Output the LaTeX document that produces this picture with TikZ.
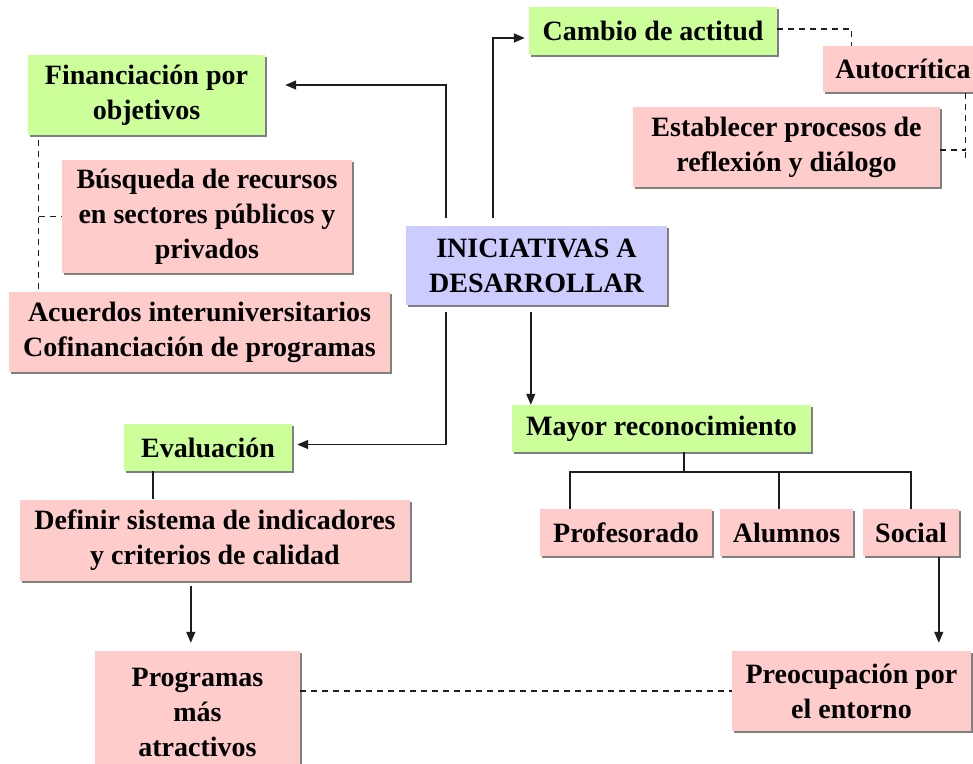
\documentclass[tikz,border=0pt]{standalone}
\usepackage{fontspec}
\setmainfont{Liberation Serif}
\usetikzlibrary{arrows.meta,calc,shadows}
\definecolor{gbox}{RGB}{204,255,153}
\definecolor{pbox}{RGB}{255,204,204}
\definecolor{bbox}{RGB}{204,204,255}
\definecolor{lnc}{RGB}{30,30,30}
\begin{document}
\begin{tikzpicture}[x=1pt,y=-1pt,
  box/.style={inner sep=0pt,align=center,font=\fontsize{28}{35}\selectfont\bfseries,
    general shadow={fill=black!50,shadow xshift=2pt,shadow yshift=-2pt}},
  gb/.style={box,fill=gbox},
  pb/.style={box,fill=pbox},
  bb/.style={box,fill=bbox},
  ln/.style={draw=lnc,line width=1.4pt},
  arr/.style={ln,-{Triangle[length=11pt,width=9pt]}},
  dsh/.style={ln,line width=1.2pt,dash pattern=on 6pt off 5pt}]
\useasboundingbox (0,0) rectangle (973,763);
\clip (0,0) rectangle (973,763);
\fill[white] (0,0) rectangle (973,763);
% boxes
\node[gb,minimum width=237pt,minimum height=80pt] (fin) at (146.5,95) {Financiación por\\objetivos};
\node[pb,minimum width=290pt,minimum height=113pt] (bus) at (207,216.5) {Búsqueda de recursos\\en sectores públicos y\\privados};
\node[pb,minimum width=381pt,minimum height=80pt] (acu) at (199.5,332) {Acuerdos interuniversitarios\\Cofinanciación de programas};
\node[bb,minimum width=261pt,minimum height=79pt] (ini) at (536.5,265.5) {INICIATIVAS A\\DESARROLLAR};
\node[gb,minimum width=248pt,minimum height=48pt] (cam) at (653,31) {Cambio de actitud};
\node[pb,minimum width=160pt,minimum height=46pt] (aut) at (903,69) {Autocrítica};
\node[pb,minimum width=307pt,minimum height=80pt] (est) at (786.5,147) {Establecer procesos de\\reflexión y diálogo};
\node[gb,minimum width=168pt,minimum height=47pt] (eva) at (208,447.5) {Evaluación};
\node[gb,minimum width=299pt,minimum height=47pt] (may) at (661.5,428.5) {Mayor reconocimiento};
\node[pb,minimum width=172pt,minimum height=47pt] (pro) at (626,532.5) {Profesorado};
\node[pb,minimum width=133pt,minimum height=47pt] (alu) at (786.5,532.5) {Alumnos};
\node[pb,minimum width=96pt,minimum height=47pt] (soc) at (911,532.5) {Social};
\node[pb,minimum width=390pt,minimum height=81pt] (def) at (215,540) {Definir sistema de indicadores\\y criterios de calidad};
\node[pb,minimum width=205pt,minimum height=122pt] (prg) at (197.5,712) {Programas\\más\\atractivos};
\node[pb,minimum width=239pt,minimum height=80pt] (pre) at (851.5,691) {Preocupación por\\el entorno};
% arrows from INICIATIVAS
\draw[arr] ($(ini.north west)+(40,-8)$) |- ($(fin.east)+(20,-10)$);
\draw[arr] ($(ini.north west)+(87,-8)$) |- ($(cam.west)+(-4,7)$);
\draw[arr] ($(ini.south west)+(40,7)$) |- ($(eva.east)+(5,-3)$);
\draw[arr] ($(ini.south west)+(125,7)$) coordinate (s1) -- (s1 |- may.north);
% tree
\coordinate (tj) at ($(may.south west)+(172,20)$);
\draw[ln] (may.south -| tj) -- (tj);
\draw[ln] ($(pro.north west)+(30,0)$) |- ($(soc.north west)+(48,-37)$) -- ($(soc.north west)+(48,0)$);
\draw[ln] ($(alu.north west)+(59,0)$) -- ($(alu.north west)+(59,-37)$);
\draw[arr] ($(soc.south west)+(76,1)$) coordinate (s2) -- ($(s2 |- pre.north)+(0,-8)$);
% left column
\draw[ln] ($(eva.south west)+(29,0)$) coordinate (s3) -- (s3 |- def.north);
\draw[arr] ($(def.south west)+(171,5)$) coordinate (s4) -- ($(s4 |- prg.north)+(0,-8)$);
\draw[dsh] (prg.east |- pre.west) -- (pre.west);
% dashed groups
\draw[dsh] ($(fin.south west)+(11,5)$) coordinate (s5) -- (s5 |- acu.north);
\draw[dsh] (s5 |- bus.west) -- (bus.west);
\draw[dsh] ($(cam.east)+(0,-2)$) -| ($(aut.north west)+(29,0)$);
\draw[dsh] ($(est.east)+(0,3)$) -| ($(aut.south west)+(143,0)$);
\draw[dsh] ($(aut.south west)+(143,60)$) -- ($(aut.south west)+(143,66)$);
\end{tikzpicture}
\end{document}
